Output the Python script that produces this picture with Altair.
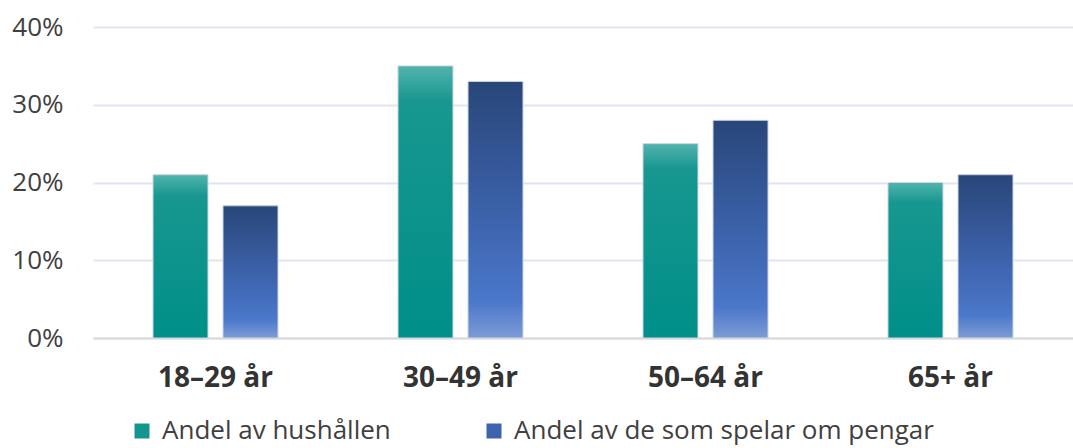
import altair as alt
import pandas as pd

# Age groups and the two measured shares (percent)
groups = ["18–29 år", "30–49 år", "50–64 år", "65+ år"]
series = ["Andel av hushållen", "Andel av de som spelar om pengar"]
hushall = [21, 35, 25, 20]
spelar = [17, 33, 28, 21]

rows = []
for g, a, b in zip(groups, hushall, spelar):
    rows.append({"group": g, "series": series[0], "value": a})
    rows.append({"group": g, "series": series[1], "value": b})
df = pd.DataFrame(rows)

FONT = "Open Sans"
TEXT = "#404040"

teal_fill = alt.Gradient(
    gradient="linear", x1=0, y1=0, x2=0, y2=1,
    stops=[
        alt.GradientStop(offset=0, color="#52B3AE"),
        alt.GradientStop(offset=0.13, color="#17978F"),
        alt.GradientStop(offset=1, color="#008F89"),
    ],
)
blue_fill = alt.Gradient(
    gradient="linear", x1=0, y1=0, x2=0, y2=1,
    stops=[
        alt.GradientStop(offset=0, color="#294679"),
        alt.GradientStop(offset=0.55, color="#3D64AE"),
        alt.GradientStop(offset=0.86, color="#4B78CA"),
        alt.GradientStop(offset=1, color="#7E9BD6"),
    ],
)

x_enc = alt.X(
    "group:N", sort=groups, title=None,
    scale=alt.Scale(paddingInner=0, paddingOuter=0),
    axis=alt.Axis(
        labelAngle=0, labelFont=FONT, labelFontSize=28, labelFontWeight="bold",
        labelColor="#333333", labelPadding=26, ticks=False,
        domainColor="#d9d9d9", domainWidth=2,
    ),
)
xoff_enc = alt.XOffset(
    "series:N", sort=series,
    scale=alt.Scale(paddingInner=15 / 70, paddingOuter=0.857),
)
y_enc = alt.Y(
    "value:Q", title=None,
    scale=alt.Scale(domain=[0, 40]),
    axis=alt.Axis(
        values=[0, 10, 20, 30, 40], labelExpr="datum.value + '%'",
        labelFont=FONT, labelFontSize=26, labelColor=TEXT, labelPadding=30,
        ticks=False, domain=False, gridColor="#dfe5ef", gridWidth=2,
    ),
)

base = alt.Chart(df).encode(x=x_enc, xOffset=xoff_enc, y=y_enc)

legend_bars = base.mark_bar().encode(
    color=alt.Color(
        "series:N", sort=series,
        scale=alt.Scale(domain=series, range=["#14958F", "#3D63AE"]),
        legend=alt.Legend(
            title=None, orient="none", direction="horizontal",
            legendX=36, legendY=391,
            symbolType="square", symbolSize=225, symbolStrokeWidth=0,
            labelFont=FONT, labelFontSize=26, labelColor=TEXT, labelLimit=0,
            labelOffset=7, columnPadding=90,
        ),
    )
)

teal_bars = base.transform_filter(alt.datum.series == series[0]).mark_bar(
    color=teal_fill, stroke="#cfd8e2", strokeWidth=1
)
blue_bars = base.transform_filter(alt.datum.series == series[1]).mark_bar(
    color=blue_fill, stroke="#cfd6e3", strokeWidth=1
)

chart = (
    alt.layer(legend_bars, teal_bars, blue_bars)
    .properties(
        width=980, height=311,
        autosize=alt.AutoSizeParams(type="none"),
        padding={"left": 93, "top": 27, "right": 0, "bottom": 110},
        background="white",
    )
    .configure_view(stroke=None)
)

chart.save("out.html", embed_options={"renderer": "svg", "actions": False})
